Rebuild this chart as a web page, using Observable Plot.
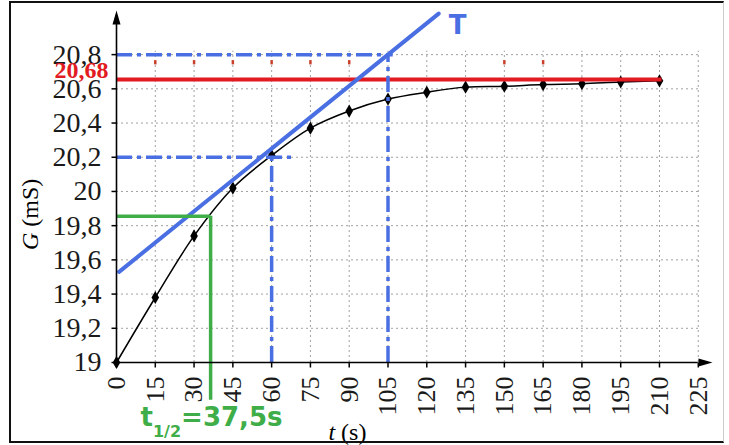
<!DOCTYPE html>
<html>
<head>
<meta charset="utf-8">
<script src="https://cdn.jsdelivr.net/npm/d3@7"></script>
<script src="https://cdn.jsdelivr.net/npm/@observablehq/plot@0.6"></script>
<style>
  html, body { margin: 0; padding: 0; background: white; }
  #wrap { position: relative; width: 729px; height: 445px; overflow: hidden; }
  #frame { position: absolute; left: 9px; top: 1px; width: 712px; height: 438px;
           border: 2px solid #111; border-right: 1px solid #ccc; pointer-events: none; }
</style>
</head>
<body>
<div id="wrap"><div id="frame"></div></div>
<script>
// ---- data ----
const times = [0, 15, 30, 45, 60, 75, 90, 105, 120, 135, 150, 165, 180, 195, 210];
const conductance = [19, 19.38, 19.74, 20.02, 20.21, 20.37, 20.47, 20.54, 20.58, 20.61, 20.615, 20.625, 20.63, 20.64, 20.647];
const xTickValues = [0, 15, 30, 45, 60, 75, 90, 105, 120, 135, 150, 165, 180, 195, 210, 225];
const yTickValues = [19, 19.2, 19.4, 19.6, 19.8, 20, 20.2, 20.4, 20.6, 20.8];
const xGridValues = [15, 30, 45, 60, 75, 90, 105, 120, 135, 150, 165, 180, 195, 210, 225];
const yGridValues = [19.2, 19.4, 19.6, 19.8, 20, 20.2, 20.4, 20.6, 20.8];
const tangentT = [1, 124.6];
const tangentG = [19.53, 21.04];
const finalValue = 20.655;          // red line position
const finalLabel = "20,68";
const blueHLines = [{g: 20.8, t1: 0, t2: 107}, {g: 20.2, t1: 0, t2: 68}];
const blueVLines = [{t: 105, g1: 19, g2: 20.8}, {t: 60, g1: 19, g2: 20.2}];
const halfG = 19.855;
const halfT = 36.4;
const redMarks = [15, 30, 45, 60, 75, 90, 150, 165];

const points = times.map((t, i) => ({t, g: conductance[i]}));
const tangent = tangentT.map((t, i) => ({t, g: tangentG[i]}));

const BLUE = "#4a6fe3";
const RED = "#e21b22";
const GREEN = "#3fae49";
const GRID = "#a0a0a0";
const SERIF = "Liberation Serif";
const SANS = "DejaVu Sans";
const fmt = d => String(d).replace(".", ",");

const arrowSym = {draw(ctx) { ctx.moveTo(0, 0); ctx.lineTo(4, 14); ctx.lineTo(-4, 14); ctx.closePath(); }};
const yTickSym = {draw(ctx) { ctx.moveTo(-5, 0); ctx.lineTo(0, 0); }};
const xTickSym = {draw(ctx) { ctx.moveTo(0, 0); ctx.lineTo(0, 5); }};

const chart = Plot.plot({
  width: 729, height: 445,
  marginLeft: 116, marginRight: 17, marginTop: 10, marginBottom: 83,
  x: {domain: [0, 230.5], axis: null},
  y: {domain: [19, 21.058], axis: null},
  style: {background: "white", color: "black", overflow: "visible"},
  marks: [
    // grid
    Plot.ruleX(xGridValues, {x: d => d, y1: 19, y2: 20.82, stroke: GRID, strokeWidth: 1, strokeDasharray: "2,3"}),
    Plot.ruleY(yGridValues, {y: d => d, x1: 0, x2: 226, stroke: GRID, strokeWidth: 1, strokeDasharray: "2,3"}),
    Plot.ruleX(redMarks, {x: d => d, y1: 20.74, y2: 20.765, stroke: "#c8402a", strokeWidth: 2.5}),
    // curve and points
    Plot.line(points, {x: "t", y: "g", curve: "catmull-rom", stroke: "black", strokeWidth: 1.5}),
    Plot.dot(points, {x: "t", y: "g", symbol: "diamond", r: 4, fill: "black", stroke: "none"}),
    // red asymptote
    Plot.ruleY([finalValue], {x1: 0, x2: 211, stroke: RED, strokeWidth: 4}),
    // blue construction lines
    Plot.ruleY(blueHLines, {y: "g", x1: "t1", x2: "t2", stroke: BLUE, strokeWidth: 3.5, strokeDasharray: "16,5,4,5"}),
    Plot.ruleX(blueVLines, {x: "t", y1: "g1", y2: "g2", stroke: BLUE, strokeWidth: 3.5, strokeDasharray: "16,5,4,5"}),
    Plot.line(tangent, {x: "t", y: "g", stroke: BLUE, strokeWidth: 4}),
    // green half-time lines
    Plot.ruleY([halfG], {x1: 0, x2: halfT, stroke: GREEN, strokeWidth: 3.5}),
    Plot.ruleX([halfT], {y1: 18.78, y2: halfG, stroke: GREEN, strokeWidth: 3.5}),
    // axes lines, arrows, ticks
    Plot.ruleX([0], {y1: 19, y2: 20.98, stroke: "black", strokeWidth: 1.6}),
    Plot.ruleY([19], {x1: 0, x2: 225, stroke: "black", strokeWidth: 1.6}),
    Plot.dot([{t: 0, g: 21.058}], {x: "t", y: "g", symbol: arrowSym, fill: "black", stroke: "none"}),
    Plot.dot([{t: 230.5, g: 19}], {x: "t", y: "g", symbol: arrowSym, rotate: 90, fill: "black", stroke: "none"}),
    Plot.dot(yTickValues, {x: () => 0, y: d => d, symbol: yTickSym, stroke: "black", strokeWidth: 1.5, fill: "none"}),
    Plot.dot(xTickValues, {x: d => d, y: () => 19, symbol: xTickSym, stroke: "black", strokeWidth: 1.5, fill: "none"}),
    // tick labels
    Plot.text(yTickValues, {x: () => 0, y: d => d, text: fmt, textAnchor: "end", dx: -15, fontSize: 28, fontFamily: SERIF, fill: "#1a1a1a"}),
    Plot.text(xTickValues, {x: d => d, y: () => 19, text: d => String(d), rotate: -90, textAnchor: "end", dy: 14, fontSize: 26, fontFamily: SERIF, fill: "#1a1a1a"}),
    // labels
    Plot.text([{t: 0, g: 20.707}], {x: "t", y: "g", text: () => finalLabel, textAnchor: "end", dx: -8, fill: RED, fontWeight: "bold", fontSize: 24, fontFamily: SERIF}),
    Plot.text([{t: 131.9, g: 20.97}], {x: "t", y: "g", text: () => "T", fill: BLUE, fontWeight: "bold", fontSize: 26, fontFamily: SANS}),
    Plot.text([{t: 0, g: 19.866}], {x: "t", y: "g", text: () => "G (mS)", rotate: -90, dx: -86, fontSize: 24, fontFamily: SERIF}),
    Plot.text([{t: 89.3, g: 18.59}], {x: "t", y: "g", text: () => "t (s)", fontSize: 24, fontFamily: SERIF}),
    Plot.text([{t: 9.3, g: 18.68}], {x: "t", y: "g", text: () => "t1/2=37,5s", textAnchor: "start", fill: GREEN, fontWeight: "bold", fontSize: 26, fontFamily: SANS})
  ]
});

d3.select(chart).selectAll("text").each(function() {
  const s = this.textContent;
  const sel = d3.select(this);
  if (s === "G (mS)") {
    sel.text(null);
    sel.append("tspan").attr("font-style", "italic").text("G");
    sel.append("tspan").text(" (mS)");
  } else if (s === "t (s)") {
    sel.text(null);
    sel.append("tspan").attr("font-style", "italic").text("t");
    sel.append("tspan").text(" (s)");
  } else if (s === "t1/2=37,5s") {
    sel.text(null);
    sel.append("tspan").text("t");
    sel.append("tspan").attr("font-size", 16).attr("dy", 11).text("1/2");
    sel.append("tspan").attr("dy", -11).text("=37,5s");
  }
});

document.getElementById("wrap").prepend(chart);
</script>
</body>
</html>
